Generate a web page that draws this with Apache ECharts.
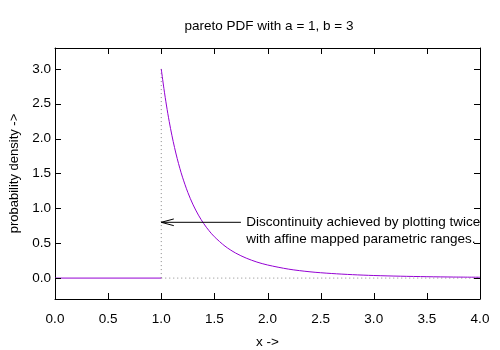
<!DOCTYPE html>
<html><head><meta charset="utf-8">
<script src="https://cdn.jsdelivr.net/npm/echarts@6/dist/echarts.min.js"></script>
<style>html,body{margin:0;padding:0;background:#fff}#c{width:500px;height:350px}</style>
</head><body><div id="c"></div>
<script>
// x values and read-off density values for the curve (x >= 1)
const curveX = [1.0,1.025,1.05,1.075,1.1,1.125,1.15,1.175,1.2,1.25,1.3,1.35,1.4,1.45,1.5,1.6,1.7,1.8,1.9,2.0,2.2,2.4,2.6,2.8,3.0,3.25,3.5,3.75,4.0];
const curveY = [3.0,2.718,2.468,2.246,2.049,1.873,1.715,1.574,1.447,1.229,1.050,0.903,0.781,0.679,0.593,0.458,0.359,0.286,0.230,0.188,0.128,0.090,0.066,0.049,0.037,0.027,0.020,0.015,0.012];
// zero part for x < 1
const zeroX = [0.0, 1.0];
const zeroY = [0.0, 0.0];
// dotted guides
const vertGuideX = [1.0, 1.0];
const vertGuideY = [0.0, 3.0];
const horizGuideX = [1.0, 4.0];
const horizGuideY = [0.0, 0.0];
// arrow and label
const arrowFrom = [1.75, 0.8];
const arrowTo = [1.0, 0.8];
const labelPos = [1.8, 0.8];
const labelLines = ['Discontinuity achieved by plotting twice', 'with affine mapped parametric ranges.'];
// axis ranges and ticks
const xRange = [0, 4];
const yRange = [-0.3, 3.3];
const xTicks = [0,0.5,1,1.5,2,2.5,3,3.5,4];
const yTicks = [0,0.5,1,1.5,2,2.5,3];
const titleText = 'pareto PDF with a = 1, b = 3';
const xName = 'x ->';
const yName = 'probability density ->';

const zip = (a,b) => a.map((v,i)=>[v,b[i]]);
const FONT = 'Liberation Sans, Arial, sans-serif';
const FS = 13.5;
const TICK = 6;
const purple = '#9400D3';
const guide = {color:'#888', width:1, type:[1,3]};

const chart = echarts.init(document.getElementById('c'), null, {renderer:'canvas'});
const axLine = {show:true, onZero:false, lineStyle:{color:'#000', width:1}};
const tickStyle = {stroke:'#000', lineWidth:1, fill:null};
chart.setOption({
  animation:false,
  title:{text:titleText, left:264, top:14, textAlign:'center',
    textStyle:{fontFamily:FONT, fontSize:FS, fontWeight:'normal', color:'#000'}},
  grid:{left:55, right:20, top:48, bottom:51, show:false, containLabel:false, outerBoundsMode:'none'},
  xAxis:[
    {type:'value', min:xRange[0], max:xRange[1], position:'bottom', splitLine:{show:false}, axisLine:axLine,
     axisTick:{show:false},
     axisLabel:{customValues:xTicks, margin:13, formatter:v=>v.toFixed(1), fontFamily:FONT, fontSize:FS, color:'#000'},
     name:xName, nameLocation:'middle', nameGap:36, nameTextStyle:{fontFamily:FONT, fontSize:FS, color:'#000'}},
    {type:'value', min:xRange[0], max:xRange[1], position:'top', splitLine:{show:false}, axisLine:axLine,
     axisTick:{show:false}, axisLabel:{show:false}}
  ],
  yAxis:[
    {type:'value', min:yRange[0], max:yRange[1], position:'left', splitLine:{show:false}, axisLine:axLine,
     axisTick:{show:false},
     axisLabel:{customValues:yTicks, margin:4, formatter:v=>v.toFixed(1), fontFamily:FONT, fontSize:FS, color:'#000'},
     name:yName, nameLocation:'middle', nameGap:34, nameTextStyle:{fontFamily:FONT, fontSize:13, color:'#000'}},
    {type:'value', min:yRange[0], max:yRange[1], position:'right', splitLine:{show:false}, axisLine:axLine,
     axisTick:{show:false}, axisLabel:{show:false}}
  ],
  series:[
    {type:'line', data:zip(vertGuideX, vertGuideY), symbol:'none', lineStyle:guide, z:1},
    {type:'line', data:zip(horizGuideX, horizGuideY), symbol:'none', lineStyle:guide, z:1},
    {type:'line', data:zip(zeroX, zeroY), symbol:'none', lineStyle:{color:purple, width:1}, z:3},
    {type:'line', data:zip(curveX, curveY), symbol:'none', smooth:0.3, lineStyle:{color:purple, width:1}, z:3},
    // arrow plus mirrored inward tick marks, all positioned through the axis scales
    {type:'custom', z:5, clip:false, data:[[arrowFrom[0],arrowFrom[1],arrowTo[0],arrowTo[1]]],
     renderItem:(params, api)=>{
       const p0 = api.coord([api.value(0), api.value(1)]);
       const p1 = api.coord([api.value(2), api.value(3)]);
       const ang = Math.atan2(p1[1]-p0[1], p1[0]-p0[0]);
       const L = 13, a = 15*Math.PI/180;
       const h1 = [p1[0]-L*Math.cos(ang-a), p1[1]-L*Math.sin(ang-a)];
       const h2 = [p1[0]-L*Math.cos(ang+a), p1[1]-L*Math.sin(ang+a)];
       const ls = {stroke:'#000', lineWidth:1, fill:null};
       const children = [
         {type:'polyline', shape:{points:[p0,p1]}, style:ls},
         {type:'polyline', shape:{points:[h1,p1,h2]}, style:ls}
       ];
       const yb = api.coord([xRange[0], yRange[0]])[1];
       const yt = api.coord([xRange[0], yRange[1]])[1];
       const xl = api.coord([xRange[0], yRange[0]])[0];
       const xr = api.coord([xRange[1], yRange[0]])[0];
       xTicks.forEach(v => {
         const x = Math.round(api.coord([v, yRange[0]])[0]) + 0.5;
         children.push({type:'polyline', shape:{points:[[x, yb], [x, yb-TICK]]}, style:tickStyle});
         children.push({type:'polyline', shape:{points:[[x, yt], [x, yt+TICK]]}, style:tickStyle});
       });
       yTicks.forEach(v => {
         const y = Math.round(api.coord([xRange[0], v])[1]) + 0.5;
         children.push({type:'polyline', shape:{points:[[xl, y], [xl+TICK, y]]}, style:tickStyle});
         children.push({type:'polyline', shape:{points:[[xr, y], [xr-TICK, y]]}, style:tickStyle});
       });
       return {type:'group', children};
     }},
    {type:'custom', z:4, data:[labelPos],
     renderItem:(params, api)=>{
       const p = api.coord([api.value(0), api.value(1)]);
       return {type:'text', x:p[0], y:p[1]-9, style:{text:labelLines.join('\n'), fill:'#000',
         font:FS+'px '+FONT, textAlign:'left', textVerticalAlign:'top', lineHeight:17}};
     }}
  ]
});
</script></body></html>
